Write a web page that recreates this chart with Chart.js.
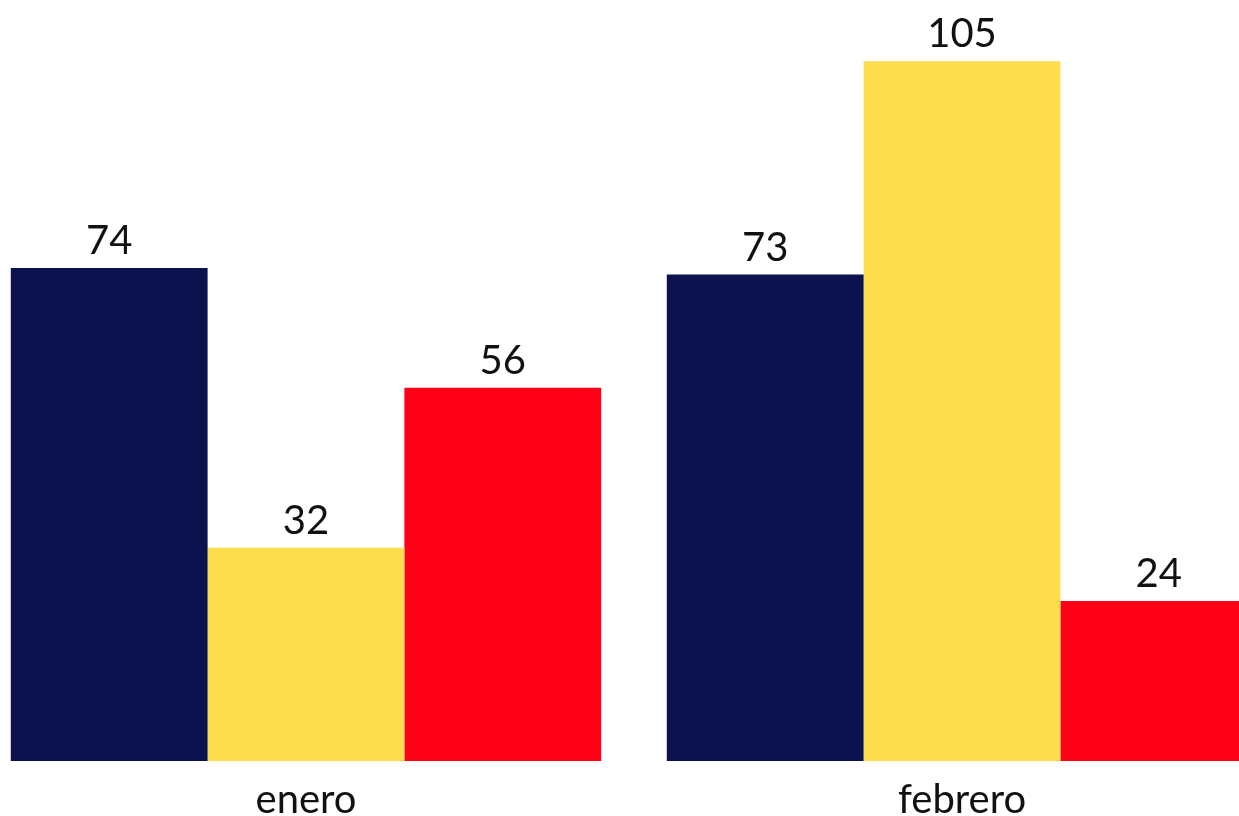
<!DOCTYPE html>
<html>
<head>
<meta charset="utf-8">
<script src="https://cdn.jsdelivr.net/npm/chart.js@4/dist/chart.umd.min.js"></script>
<style>
html,body{margin:0;padding:0;background:#fff;overflow:hidden;width:1239px;height:816px}
#c{position:absolute;left:-22px;top:0}
</style>
</head>
<body>
<canvas id="c" width="1312" height="839"></canvas>
<script>
const months=['enero','febrero'];
const serieA=[74,73];
const serieB=[32,105];
const serieC=[56,24];
const colors=['#0b124d','#fedd4e','#ff0016'];

/* value labels over each bar */
const valueLabels={
  id:'valueLabels',
  afterDatasetsDraw(chart){
    const ctx=chart.ctx;
    ctx.save();
    ctx.font='40px Lato';
    ctx.fillStyle='#111';
    ctx.textAlign='center';
    ctx.textBaseline='alphabetic';
    chart.data.datasets.forEach((ds,i)=>{
      chart.getDatasetMeta(i).data.forEach((bar,j)=>{
        ctx.fillText(ds.data[j],bar.x,bar.y-14);
      });
    });
    ctx.restore();
  }
};

const chart=new Chart(document.getElementById('c'),{
  type:'bar',
  data:{labels:months,datasets:[
    {label:'A',data:serieA,backgroundColor:colors[0]},
    {label:'B',data:serieB,backgroundColor:colors[1]},
    {label:'C',data:serieC,backgroundColor:colors[2]}
  ]},
  options:{
    responsive:false,animation:false,devicePixelRatio:1,
    layout:{padding:0},
    categoryPercentage:0.9,barPercentage:1,
    plugins:{legend:{display:false},tooltip:{enabled:false}},
    scales:{
      x:{grid:{display:false,drawTicks:false},border:{display:false},
         ticks:{color:'#111',font:{family:'Lato',size:40,lineHeight:1.2},padding:15}},
      y:{display:false,min:0,max:114.2}
    }
  },
  plugins:[valueLabels]
});
</script>
</body>
</html>
